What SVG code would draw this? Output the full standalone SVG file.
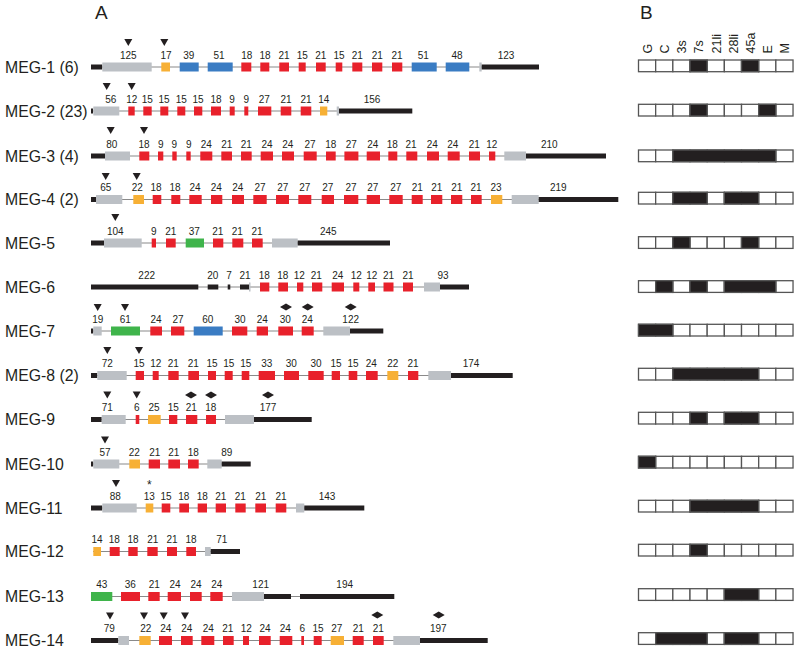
<svg xmlns="http://www.w3.org/2000/svg" xmlns:xlink="http://www.w3.org/1999/xlink" width="800" height="651" viewBox="0 0 800 651">
<style>
.ln{stroke:#8a8a8a;stroke-width:1.2;fill:none}
.k{fill:#231f20}.g{fill:#bcc0c5}.o{fill:#f7b035}.b{fill:#3a7cc3}.r{fill:#e8212b}.gr{fill:#3fb44b}
text{font-family:"Liberation Sans",Arial,sans-serif;fill:#231f20}
.n{font-size:10px;text-anchor:middle}
.lbl{font-size:15.8px}
.hd{font-size:12.5px}
.cap{font-size:19px}
.c{fill:#fff;stroke:#555;stroke-width:1.3}
.f{fill:#231f20;stroke:#555;stroke-width:1.3}
.m{fill:#231f20}
</style>
<defs>
<path id="tri" class="m" d="M-4,0H4L0,7Z"/>
<path id="dia" class="m" d="M-6,0L0,-3.5L6,0L0,3.5Z"/>
<g id="row9">
<rect class="c" x="638.5" y="0" width="17.17" height="11.7"/>
<rect class="c" x="655.67" y="0" width="17.17" height="11.7"/>
<rect class="c" x="672.84" y="0" width="17.17" height="11.7"/>
<rect class="c" x="690.01" y="0" width="17.17" height="11.7"/>
<rect class="c" x="707.18" y="0" width="17.17" height="11.7"/>
<rect class="c" x="724.35" y="0" width="17.17" height="11.7"/>
<rect class="c" x="741.52" y="0" width="17.17" height="11.7"/>
<rect class="c" x="758.69" y="0" width="17.17" height="11.7"/>
<rect class="c" x="775.86" y="0" width="17.17" height="11.7"/>
</g>
</defs>
<text class="cap" x="95" y="19">A</text>
<text class="cap" x="640" y="19">B</text>
<g id="headers" class="hd">
<text transform="translate(651.8,53.5) rotate(-90)">G</text>
<text transform="translate(669,53.5) rotate(-90)">C</text>
<text transform="translate(686.1,53.5) rotate(-90)">3s</text>
<text transform="translate(703.3,53.5) rotate(-90)">7s</text>
<text transform="translate(720.5,53.5) rotate(-90)">21li</text>
<text transform="translate(737.6,53.5) rotate(-90)">28li</text>
<text transform="translate(754.8,53.5) rotate(-90)">45a</text>
<text transform="translate(772,53.5) rotate(-90)">E</text>
<text transform="translate(789.1,53.5) rotate(-90)">M</text>
</g>
<g id="connectors"></g>

<g id="meg1" transform="translate(0,67)">
<text class="lbl" x="5" y="5.5">MEG-1 (6)</text>
<line class="ln" x1="91" y1="0" x2="539" y2="0"/>
<rect class="k" x="91" y="-2.5" width="11.3" height="5"/>
<rect class="g" x="102.3" y="-4.5" width="49.4" height="9"/>
<rect class="o" x="161.3" y="-4.5" width="8.7" height="9"/>
<rect class="b" x="179.7" y="-4.5" width="19" height="9"/>
<rect class="b" x="207.7" y="-4.5" width="25" height="9"/>
<rect class="r" x="241.3" y="-4.5" width="10" height="9"/>
<rect class="r" x="260.3" y="-4.5" width="9" height="9"/>
<rect class="r" x="279.3" y="-4.5" width="9.7" height="9"/>
<rect class="r" x="298.7" y="-4.5" width="7" height="9"/>
<rect class="r" x="316" y="-4.5" width="9.7" height="9"/>
<rect class="r" x="335.7" y="-4.5" width="6.6" height="9"/>
<rect class="r" x="352.3" y="-4.5" width="10" height="9"/>
<rect class="r" x="372" y="-4.5" width="10.3" height="9"/>
<rect class="r" x="392" y="-4.5" width="10.3" height="9"/>
<rect class="b" x="411.7" y="-4.5" width="25" height="9"/>
<rect class="b" x="445.7" y="-4.5" width="23.6" height="9"/>
<rect class="g" x="479.3" y="-4.5" width="2.4" height="9"/>
<rect class="k" x="481.7" y="-2.5" width="57.3" height="5"/>
<g class="n">
<text x="128.3" y="-8.5">125</text><text x="166" y="-8.5">17</text><text x="188.7" y="-8.5">39</text><text x="219" y="-8.5">51</text>
<text x="246.7" y="-8.5">18</text><text x="265" y="-8.5">18</text><text x="284" y="-8.5">21</text><text x="302.3" y="-8.5">15</text>
<text x="320.7" y="-8.5">21</text><text x="339" y="-8.5">15</text><text x="357.3" y="-8.5">21</text><text x="377.3" y="-8.5">21</text>
<text x="397" y="-8.5">21</text><text x="423.3" y="-8.5">51</text><text x="457" y="-8.5">48</text><text x="506" y="-8.5">123</text>
</g>
<use href="#tri" x="128.3" y="-28"/><use href="#tri" x="164.3" y="-28"/>
</g>

<g id="meg2" transform="translate(0,111)">
<text class="lbl" x="5" y="5.5">MEG-2 (23)</text>
<line class="ln" x1="91" y1="0" x2="412" y2="0"/>
<rect class="k" x="91" y="-2.5" width="2" height="5"/>
<rect class="g" x="93.3" y="-4.5" width="26" height="9"/>
<rect class="r" x="128.3" y="-4.5" width="6.4" height="9"/>
<rect class="r" x="143.3" y="-4.5" width="8.4" height="9"/>
<rect class="r" x="160.3" y="-4.5" width="8" height="9"/>
<rect class="r" x="177.3" y="-4.5" width="8" height="9"/>
<rect class="r" x="194" y="-4.5" width="8.3" height="9"/>
<rect class="r" x="211" y="-4.5" width="10" height="9"/>
<rect class="r" x="229.7" y="-4.5" width="5" height="9"/>
<rect class="r" x="244.3" y="-4.5" width="4" height="9"/>
<rect class="r" x="258" y="-4.5" width="13.3" height="9"/>
<rect class="r" x="280.7" y="-4.5" width="10.6" height="9"/>
<rect class="r" x="300.7" y="-4.5" width="10.6" height="9"/>
<rect class="o" x="320" y="-4.5" width="7.3" height="9"/>
<rect class="g" x="336.7" y="-4.5" width="2.3" height="9"/>
<rect class="k" x="339" y="-2.5" width="73.3" height="5"/>
<g class="n">
<text x="110.7" y="-8.5">56</text><text x="131.7" y="-8.5">12</text><text x="147.3" y="-8.5">15</text><text x="164" y="-8.5">15</text>
<text x="181.3" y="-8.5">15</text><text x="198" y="-8.5">15</text><text x="216" y="-8.5">18</text><text x="232" y="-8.5">9</text>
<text x="246.3" y="-8.5">9</text><text x="264.3" y="-8.5">27</text><text x="286" y="-8.5">21</text><text x="306" y="-8.5">21</text>
<text x="323.7" y="-8.5">14</text><text x="372" y="-8.5">156</text>
</g>
<use href="#tri" x="106.7" y="-28"/><use href="#tri" x="131.7" y="-28"/>
</g>

<g id="meg3" transform="translate(0,156)">
<text class="lbl" x="5" y="5.5">MEG-3 (4)</text>
<line class="ln" x1="91" y1="0" x2="606" y2="0"/>
<rect class="k" x="91" y="-2.5" width="14" height="5"/>
<rect class="g" x="105" y="-4.5" width="25" height="9"/>
<rect class="r" x="139.3" y="-4.5" width="10" height="9"/>
<rect class="r" x="158" y="-4.5" width="5.3" height="9"/>
<rect class="r" x="172.3" y="-4.5" width="4.4" height="9"/>
<rect class="r" x="186.3" y="-4.5" width="4.4" height="9"/>
<rect class="r" x="200.3" y="-4.5" width="12" height="9"/>
<rect class="r" x="221.3" y="-4.5" width="10.7" height="9"/>
<rect class="r" x="241" y="-4.5" width="10.7" height="9"/>
<rect class="r" x="260.7" y="-4.5" width="12.3" height="9"/>
<rect class="r" x="282" y="-4.5" width="12" height="9"/>
<rect class="r" x="303.7" y="-4.5" width="13" height="9"/>
<rect class="r" x="326" y="-4.5" width="9.7" height="9"/>
<rect class="r" x="344.4" y="-4.5" width="14" height="9"/>
<rect class="r" x="366.7" y="-4.5" width="13.3" height="9"/>
<rect class="r" x="388.3" y="-4.5" width="9" height="9"/>
<rect class="r" x="406.3" y="-4.5" width="11" height="9"/>
<rect class="r" x="427" y="-4.5" width="12" height="9"/>
<rect class="r" x="447.7" y="-4.5" width="12" height="9"/>
<rect class="r" x="469" y="-4.5" width="11" height="9"/>
<rect class="r" x="489" y="-4.5" width="6.3" height="9"/>
<rect class="g" x="504.3" y="-4.5" width="21.7" height="9"/>
<rect class="k" x="526" y="-2.5" width="80" height="5"/>
<g class="n">
<text x="111.7" y="-8.5">80</text><text x="144" y="-8.5">18</text><text x="160.7" y="-8.5">9</text><text x="174.3" y="-8.5">9</text>
<text x="188.7" y="-8.5">9</text><text x="206.3" y="-8.5">24</text><text x="226.7" y="-8.5">21</text><text x="246.3" y="-8.5">21</text>
<text x="267" y="-8.5">24</text><text x="287.7" y="-8.5">24</text><text x="310" y="-8.5">27</text><text x="330.7" y="-8.5">18</text>
<text x="351.3" y="-8.5">27</text><text x="372.7" y="-8.5">24</text><text x="392.3" y="-8.5">18</text><text x="411" y="-8.5">21</text>
<text x="432.3" y="-8.5">24</text><text x="452.7" y="-8.5">24</text><text x="474.3" y="-8.5">21</text><text x="491.7" y="-8.5">12</text>
<text x="549.3" y="-8.5">210</text>
</g>
<use href="#tri" x="110.7" y="-29"/><use href="#tri" x="144" y="-29"/>
</g>

<g id="meg4" transform="translate(0,199.5)">
<text class="lbl" x="5" y="5.5">MEG-4 (2)</text>
<line class="ln" x1="91" y1="0" x2="618" y2="0"/>
<rect class="k" x="91" y="-2.5" width="5" height="5"/>
<rect class="g" x="96" y="-4.5" width="26.3" height="9"/>
<rect class="o" x="133.3" y="-4.5" width="10.7" height="9"/>
<rect class="r" x="152.7" y="-4.5" width="8.6" height="9"/>
<rect class="r" x="171.3" y="-4.5" width="9" height="9"/>
<rect class="r" x="189.3" y="-4.5" width="12.4" height="9"/>
<rect class="r" x="211" y="-4.5" width="11.3" height="9"/>
<rect class="r" x="232" y="-4.5" width="12" height="9"/>
<rect class="r" x="253.3" y="-4.5" width="13.4" height="9"/>
<rect class="r" x="276" y="-4.5" width="13" height="9"/>
<rect class="r" x="298.3" y="-4.5" width="13" height="9"/>
<rect class="r" x="321.7" y="-4.5" width="12.3" height="9"/>
<rect class="r" x="344" y="-4.5" width="14.3" height="9"/>
<rect class="r" x="366.7" y="-4.5" width="13.3" height="9"/>
<rect class="r" x="389.3" y="-4.5" width="13.4" height="9"/>
<rect class="r" x="411.7" y="-4.5" width="11" height="9"/>
<rect class="r" x="431" y="-4.5" width="11.3" height="9"/>
<rect class="r" x="451" y="-4.5" width="11.3" height="9"/>
<rect class="r" x="471" y="-4.5" width="10.7" height="9"/>
<rect class="o" x="491" y="-4.5" width="11.3" height="9"/>
<rect class="g" x="511.7" y="-4.5" width="27" height="9"/>
<rect class="k" x="538.7" y="-2.5" width="79.6" height="5"/>
<g class="n">
<text x="105.7" y="-8.5">65</text><text x="137.3" y="-8.5">22</text><text x="156" y="-8.5">18</text><text x="175" y="-8.5">18</text>
<text x="195" y="-8.5">24</text><text x="216.3" y="-8.5">24</text><text x="237.7" y="-8.5">24</text><text x="260" y="-8.5">27</text>
<text x="282.7" y="-8.5">27</text><text x="304.7" y="-8.5">27</text><text x="327.7" y="-8.5">27</text><text x="351" y="-8.5">27</text>
<text x="372.7" y="-8.5">27</text><text x="395.7" y="-8.5">27</text><text x="417.3" y="-8.5">21</text><text x="436.7" y="-8.5">21</text>
<text x="456.7" y="-8.5">21</text><text x="476" y="-8.5">21</text><text x="496" y="-8.5">23</text><text x="558.3" y="-8.5">219</text>
</g>
<use href="#tri" x="105.7" y="-26.5"/><use href="#tri" x="136.7" y="-26.5"/>
</g>

<g id="meg5" transform="translate(0,243)">
<text class="lbl" x="5" y="5.5">MEG-5</text>
<line class="ln" x1="91" y1="0" x2="390" y2="0"/>
<rect class="k" x="91" y="-2.5" width="13" height="5"/>
<rect class="g" x="104" y="-4.5" width="37.7" height="9"/>
<rect class="r" x="151.7" y="-4.5" width="4.3" height="9"/>
<rect class="r" x="166" y="-4.5" width="9.7" height="9"/>
<rect class="gr" x="185.7" y="-4.5" width="18.3" height="9"/>
<rect class="r" x="213" y="-4.5" width="10.3" height="9"/>
<rect class="r" x="232.3" y="-4.5" width="11" height="9"/>
<rect class="r" x="252" y="-4.5" width="10.7" height="9"/>
<rect class="g" x="272" y="-4.5" width="25.7" height="9"/>
<rect class="k" x="297.7" y="-2.5" width="92.3" height="5"/>
<g class="n">
<text x="115.3" y="-8.5">104</text><text x="153.7" y="-8.5">9</text><text x="170.7" y="-8.5">21</text><text x="194.3" y="-8.5">37</text>
<text x="217.7" y="-8.5">21</text><text x="237.3" y="-8.5">21</text><text x="257" y="-8.5">21</text><text x="328.3" y="-8.5">245</text>
</g>
<use href="#tri" x="115.3" y="-29"/>
</g>

<g id="meg6" transform="translate(0,287)">
<text class="lbl" x="5" y="5.5">MEG-6</text>
<line class="ln" x1="91" y1="0" x2="469" y2="0"/>
<rect class="k" x="91" y="-2.5" width="107.3" height="5"/>
<rect class="k" x="207.7" y="-2.5" width="10.6" height="5"/>
<rect class="k" x="227.7" y="-2.5" width="2.6" height="5"/>
<rect class="k" x="240" y="-2.5" width="9" height="5"/>
<rect class="g" x="249" y="-4.5" width="1.5" height="9"/>
<rect class="r" x="260" y="-4.5" width="9.3" height="9"/>
<rect class="r" x="278.3" y="-4.5" width="9.7" height="9"/>
<rect class="r" x="297" y="-4.5" width="6.3" height="9"/>
<rect class="r" x="312" y="-4.5" width="10.3" height="9"/>
<rect class="r" x="331.7" y="-4.5" width="12.3" height="9"/>
<rect class="r" x="353.3" y="-4.5" width="6" height="9"/>
<rect class="r" x="368.3" y="-4.5" width="6.7" height="9"/>
<rect class="r" x="383.5" y="-4.5" width="10" height="9"/>
<rect class="r" x="403" y="-4.5" width="10" height="9"/>
<rect class="g" x="424" y="-4.5" width="16" height="9"/>
<rect class="k" x="440" y="-2.5" width="29" height="5"/>
<g class="n">
<text x="146.7" y="-8.5">222</text><text x="212.7" y="-8.5">20</text><text x="229" y="-8.5">7</text><text x="245" y="-8.5">21</text>
<text x="264.3" y="-8.5">18</text><text x="282.7" y="-8.5">18</text><text x="299.3" y="-8.5">12</text><text x="316.3" y="-8.5">21</text>
<text x="337.7" y="-8.5">24</text><text x="356.3" y="-8.5">12</text><text x="371.7" y="-8.5">12</text><text x="388.5" y="-8.5">21</text>
<text x="408" y="-8.5">21</text><text x="443" y="-8.5">93</text>
</g>
</g>

<g id="meg7" transform="translate(0,331)">
<text class="lbl" x="5" y="5.5">MEG-7</text>
<line class="ln" x1="91" y1="0" x2="383" y2="0"/>
<rect class="k" x="91" y="-2.5" width="2.3" height="5"/>
<rect class="g" x="93.3" y="-4.5" width="8.4" height="9"/>
<rect class="gr" x="111" y="-4.5" width="29" height="9"/>
<rect class="r" x="150.3" y="-4.5" width="11.7" height="9"/>
<rect class="r" x="171" y="-4.5" width="13.3" height="9"/>
<rect class="b" x="193.7" y="-4.5" width="29" height="9"/>
<rect class="r" x="232" y="-4.5" width="15.3" height="9"/>
<rect class="r" x="256.7" y="-4.5" width="11.3" height="9"/>
<rect class="r" x="278.3" y="-4.5" width="14.7" height="9"/>
<rect class="r" x="301.7" y="-4.5" width="12" height="9"/>
<rect class="g" x="323.3" y="-4.5" width="26.7" height="9"/>
<rect class="k" x="350" y="-2.5" width="33.3" height="5"/>
<g class="n">
<text x="97.7" y="-8.5">19</text><text x="125.3" y="-8.5">61</text><text x="156" y="-8.5">24</text><text x="178" y="-8.5">27</text>
<text x="207.7" y="-8.5">60</text><text x="240" y="-8.5">30</text><text x="262.3" y="-8.5">24</text><text x="285.3" y="-8.5">30</text>
<text x="307.3" y="-8.5">24</text><text x="350.7" y="-8.5">122</text>
</g>
<use href="#tri" x="97.7" y="-27"/><use href="#tri" x="125" y="-27"/>
<use href="#dia" x="286" y="-24"/><use href="#dia" x="307.7" y="-24"/><use href="#dia" x="350.7" y="-24"/>
</g>

<g id="meg8" transform="translate(0,375.5)">
<text class="lbl" x="5" y="5.5">MEG-8 (2)</text>
<line class="ln" x1="91" y1="0" x2="512" y2="0"/>
<rect class="k" x="91" y="-2.5" width="6.3" height="5"/>
<rect class="g" x="97.3" y="-4.5" width="29.4" height="9"/>
<rect class="r" x="135.7" y="-4.5" width="8.3" height="9"/>
<rect class="r" x="152.7" y="-4.5" width="6" height="9"/>
<rect class="r" x="168.3" y="-4.5" width="10.4" height="9"/>
<rect class="r" x="188.3" y="-4.5" width="10.7" height="9"/>
<rect class="r" x="208" y="-4.5" width="8" height="9"/>
<rect class="r" x="224.7" y="-4.5" width="8" height="9"/>
<rect class="r" x="241.7" y="-4.5" width="7.6" height="9"/>
<rect class="r" x="258.7" y="-4.5" width="16.3" height="9"/>
<rect class="r" x="284" y="-4.5" width="15" height="9"/>
<rect class="r" x="308.3" y="-4.5" width="15.4" height="9"/>
<rect class="r" x="331.7" y="-4.5" width="8.3" height="9"/>
<rect class="r" x="348.7" y="-4.5" width="8.6" height="9"/>
<rect class="r" x="366" y="-4.5" width="11.7" height="9"/>
<rect class="o" x="387.3" y="-4.5" width="11" height="9"/>
<rect class="r" x="408" y="-4.5" width="10.3" height="9"/>
<rect class="g" x="428.3" y="-4.5" width="22.7" height="9"/>
<rect class="k" x="451" y="-2.5" width="61.7" height="5"/>
<g class="n">
<text x="107.3" y="-8.5">72</text><text x="139" y="-8.5">15</text><text x="155.7" y="-8.5">12</text><text x="173.3" y="-8.5">21</text>
<text x="193.3" y="-8.5">21</text><text x="212" y="-8.5">15</text><text x="228.7" y="-8.5">15</text><text x="245.7" y="-8.5">15</text>
<text x="266.7" y="-8.5">33</text><text x="291.3" y="-8.5">30</text><text x="316" y="-8.5">30</text><text x="336" y="-8.5">15</text>
<text x="353" y="-8.5">15</text><text x="371.3" y="-8.5">24</text><text x="392.7" y="-8.5">22</text><text x="413" y="-8.5">21</text>
<text x="471" y="-8.5">174</text>
</g>
<use href="#tri" x="107.3" y="-28.5"/><use href="#tri" x="139" y="-28.5"/>
</g>

<g id="meg9" transform="translate(0,419.5)">
<text class="lbl" x="5" y="5.5">MEG-9</text>
<line class="ln" x1="91" y1="0" x2="311" y2="0"/>
<rect class="k" x="91" y="-2.5" width="10.7" height="5"/>
<rect class="g" x="101.7" y="-4.5" width="24" height="9"/>
<rect class="r" x="135.7" y="-4.5" width="3.6" height="9"/>
<rect class="o" x="148" y="-4.5" width="12.7" height="9"/>
<rect class="r" x="169" y="-4.5" width="8.3" height="9"/>
<rect class="r" x="186" y="-4.5" width="11.3" height="9"/>
<rect class="r" x="206" y="-4.5" width="10" height="9"/>
<rect class="g" x="225" y="-4.5" width="29" height="9"/>
<rect class="k" x="254" y="-2.5" width="57.7" height="5"/>
<g class="n">
<text x="107.3" y="-8.5">71</text><text x="136.7" y="-8.5">6</text><text x="154" y="-8.5">25</text><text x="173.3" y="-8.5">15</text>
<text x="191.3" y="-8.5">21</text><text x="210.7" y="-8.5">18</text><text x="268" y="-8.5">177</text>
</g>
<use href="#tri" x="107.3" y="-28"/><use href="#tri" x="136.7" y="-28"/>
<use href="#dia" x="191" y="-24.5"/><use href="#dia" x="211" y="-24.5"/><use href="#dia" x="268" y="-24.5"/>
</g>

<g id="meg10" transform="translate(0,464)">
<text class="lbl" x="5" y="5.5">MEG-10</text>
<line class="ln" x1="91" y1="0" x2="250" y2="0"/>
<rect class="k" x="91" y="-2.5" width="2.3" height="5"/>
<rect class="g" x="93.3" y="-4.5" width="26" height="9"/>
<rect class="o" x="129.3" y="-4.5" width="10.7" height="9"/>
<rect class="r" x="148.7" y="-4.5" width="11.3" height="9"/>
<rect class="r" x="168.3" y="-4.5" width="11.7" height="9"/>
<rect class="r" x="188" y="-4.5" width="10.7" height="9"/>
<rect class="g" x="207.3" y="-4.5" width="14.4" height="9"/>
<rect class="k" x="221.7" y="-2.5" width="29" height="5"/>
<g class="n">
<text x="105" y="-8.5">57</text><text x="134.3" y="-8.5">22</text><text x="154.7" y="-8.5">21</text><text x="173.7" y="-8.5">21</text>
<text x="193.3" y="-8.5">18</text><text x="226.7" y="-8.5">89</text>
</g>
<use href="#tri" x="105" y="-27.5"/>
</g>

<g id="meg11" transform="translate(0,508)">
<text class="lbl" x="5" y="5.5">MEG-11</text>
<line class="ln" x1="91" y1="0" x2="364" y2="0"/>
<rect class="k" x="91" y="-2.5" width="11.3" height="5"/>
<rect class="g" x="102.3" y="-4.5" width="34.4" height="9"/>
<rect class="o" x="145.7" y="-4.5" width="7.6" height="9"/>
<rect class="r" x="161.7" y="-4.5" width="8.6" height="9"/>
<rect class="r" x="179.3" y="-4.5" width="9.7" height="9"/>
<rect class="r" x="197.7" y="-4.5" width="9.3" height="9"/>
<rect class="r" x="215.7" y="-4.5" width="10.3" height="9"/>
<rect class="r" x="235.3" y="-4.5" width="10.4" height="9"/>
<rect class="r" x="255.3" y="-4.5" width="10.7" height="9"/>
<rect class="r" x="275.7" y="-4.5" width="10.6" height="9"/>
<rect class="g" x="296" y="-4.5" width="8.3" height="9"/>
<rect class="k" x="304.3" y="-2.5" width="60" height="5"/>
<g class="n">
<text x="115.3" y="-8.5">88</text><text x="149.3" y="-8.5">13</text><text x="166" y="-8.5">15</text><text x="183.7" y="-8.5">18</text>
<text x="202.3" y="-8.5">18</text><text x="220.7" y="-8.5">21</text><text x="240.3" y="-8.5">21</text><text x="260.7" y="-8.5">21</text>
<text x="281" y="-8.5">21</text><text x="327" y="-8.5">143</text>
<text x="149.3" y="-19.5" style="font-size:12px">*</text>
</g>
<use href="#tri" x="116" y="-28"/>
</g>

<g id="meg12" transform="translate(0,551.5)">
<text class="lbl" x="5" y="5.5">MEG-12</text>
<line class="ln" x1="93" y1="0" x2="240" y2="0"/>
<rect class="o" x="93.3" y="-4.5" width="7.7" height="9"/>
<rect class="r" x="109.7" y="-4.5" width="10" height="9"/>
<rect class="r" x="128.3" y="-4.5" width="9.4" height="9"/>
<rect class="r" x="147.3" y="-4.5" width="10.4" height="9"/>
<rect class="r" x="167" y="-4.5" width="10" height="9"/>
<rect class="r" x="186.3" y="-4.5" width="9.7" height="9"/>
<rect class="g" x="205" y="-4.5" width="5.7" height="9"/>
<rect class="k" x="210.7" y="-2.5" width="29.3" height="5"/>
<g class="n">
<text x="97" y="-8.5">14</text><text x="114.3" y="-8.5">18</text><text x="133" y="-8.5">18</text><text x="152.7" y="-8.5">21</text>
<text x="172" y="-8.5">21</text><text x="191" y="-8.5">18</text><text x="221.7" y="-8.5">71</text>
</g>
</g>

<g id="meg13" transform="translate(0,596.5)">
<text class="lbl" x="5" y="5.5">MEG-13</text>
<line class="ln" x1="91" y1="0" x2="394" y2="0"/>
<rect class="gr" x="91" y="-4.5" width="21.3" height="9"/>
<rect class="r" x="121" y="-4.5" width="19" height="9"/>
<rect class="r" x="148.3" y="-4.5" width="11.4" height="9"/>
<rect class="r" x="167.7" y="-4.5" width="13.3" height="9"/>
<rect class="r" x="190" y="-4.5" width="11.7" height="9"/>
<rect class="r" x="210.3" y="-4.5" width="12.4" height="9"/>
<rect class="g" x="232" y="-4.5" width="32" height="9"/>
<rect class="k" x="264" y="-2.5" width="27" height="5"/>
<rect class="k" x="300" y="-2.5" width="94.3" height="5"/>
<g class="n">
<text x="101.7" y="-8.5">43</text><text x="130.3" y="-8.5">36</text><text x="154.3" y="-8.5">21</text><text x="175" y="-8.5">24</text>
<text x="196" y="-8.5">24</text><text x="216.7" y="-8.5">24</text><text x="260.7" y="-8.5">121</text><text x="344.7" y="-8.5">194</text>
</g>
</g>

<g id="meg14" transform="translate(0,640.5)">
<text class="lbl" x="5" y="5.5">MEG-14</text>
<line class="ln" x1="91" y1="0" x2="487" y2="0"/>
<rect class="k" x="91" y="-2.5" width="27.3" height="5"/>
<rect class="g" x="118.3" y="-4.5" width="10.7" height="9"/>
<rect class="o" x="139.3" y="-4.5" width="11.4" height="9"/>
<rect class="r" x="159" y="-4.5" width="13" height="9"/>
<rect class="r" x="181" y="-4.5" width="11.7" height="9"/>
<rect class="r" x="201.3" y="-4.5" width="13" height="9"/>
<rect class="r" x="223" y="-4.5" width="10.7" height="9"/>
<rect class="r" x="243" y="-4.5" width="6" height="9"/>
<rect class="r" x="259" y="-4.5" width="11.7" height="9"/>
<rect class="r" x="279.7" y="-4.5" width="12.6" height="9"/>
<rect class="r" x="301.3" y="-4.5" width="2.7" height="9"/>
<rect class="r" x="313.7" y="-4.5" width="8" height="9"/>
<rect class="o" x="330.7" y="-4.5" width="13.3" height="9"/>
<rect class="r" x="352.7" y="-4.5" width="11" height="9"/>
<rect class="r" x="373" y="-4.5" width="10.7" height="9"/>
<rect class="g" x="393.3" y="-4.5" width="26.7" height="9"/>
<rect class="k" x="420" y="-2.5" width="67.7" height="5"/>
<g class="n">
<text x="109.3" y="-8.5">79</text><text x="145.7" y="-8.5">22</text><text x="165.7" y="-8.5">24</text><text x="186.7" y="-8.5">24</text>
<text x="208.3" y="-8.5">24</text><text x="227.7" y="-8.5">21</text><text x="246.3" y="-8.5">12</text><text x="265" y="-8.5">24</text>
<text x="285.3" y="-8.5">24</text><text x="302.3" y="-8.5">6</text><text x="318" y="-8.5">15</text><text x="336.7" y="-8.5">27</text>
<text x="358.3" y="-8.5">21</text><text x="378.3" y="-8.5">21</text><text x="438.3" y="-8.5">197</text>
</g>
<use href="#tri" x="110" y="-28"/><use href="#tri" x="144" y="-28"/><use href="#tri" x="163.7" y="-28"/><use href="#tri" x="185" y="-28"/>
<use href="#dia" x="377.3" y="-25.5"/><use href="#dia" x="438.7" y="-25.5"/>
</g>

<g id="panelB">
<use href="#row9" y="60"/>
<rect class="f" x="690.01" y="60" width="17.17" height="11.7"/><rect class="f" x="741.52" y="60" width="17.17" height="11.7"/>
<use href="#row9" y="104.3"/>
<rect class="f" x="690.01" y="104.3" width="17.17" height="11.7"/><rect class="f" x="758.69" y="104.3" width="17.17" height="11.7"/>
<use href="#row9" y="150"/>
<rect class="f" x="672.84" y="150" width="103.02" height="11.7"/>
<use href="#row9" y="192.3"/>
<rect class="f" x="672.84" y="192.3" width="34.34" height="11.7"/><rect class="f" x="724.35" y="192.3" width="34.34" height="11.7"/>
<use href="#row9" y="236.7"/>
<rect class="f" x="672.84" y="236.7" width="17.17" height="11.7"/><rect class="f" x="741.52" y="236.7" width="17.17" height="11.7"/>
<use href="#row9" y="280.7"/>
<rect class="f" x="655.67" y="280.7" width="17.17" height="11.7"/><rect class="f" x="690.01" y="280.7" width="17.17" height="11.7"/><rect class="f" x="724.35" y="280.7" width="51.51" height="11.7"/>
<use href="#row9" y="324.3"/>
<rect class="f" x="638.5" y="324.3" width="34.34" height="11.7"/>
<use href="#row9" y="368.3"/>
<rect class="f" x="672.84" y="368.3" width="85.85" height="11.7"/>
<use href="#row9" y="412.3"/>
<rect class="f" x="690.01" y="412.3" width="17.17" height="11.7"/><rect class="f" x="724.35" y="412.3" width="34.34" height="11.7"/>
<use href="#row9" y="456.3"/>
<rect class="f" x="638.5" y="456.3" width="17.17" height="11.7"/>
<use href="#row9" y="500.3"/>
<rect class="f" x="690.01" y="500.3" width="68.68" height="11.7"/>
<use href="#row9" y="544.3"/>
<rect class="f" x="690.01" y="544.3" width="17.17" height="11.7"/>
<use href="#row9" y="588.7"/>
<rect class="f" x="724.35" y="588.7" width="34.34" height="11.7"/>
<use href="#row9" y="632.7"/>
<rect class="f" x="655.67" y="632.7" width="51.51" height="11.7"/><rect class="f" x="724.35" y="632.7" width="34.34" height="11.7"/>
</g>
</svg>
